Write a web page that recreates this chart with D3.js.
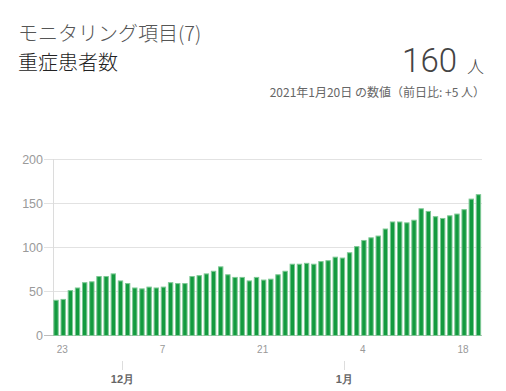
<!DOCTYPE html>
<html><head><meta charset="utf-8">
<script src="https://cdn.jsdelivr.net/npm/d3@7"></script>
<style>
html,body{margin:0;padding:0;background:#fff;}
svg{display:block;}
</style></head>
<body><svg id="c" width="506" height="391"></svg>
<script>
const titleTop = "モニタリング項目(7)";
const titleMain = "重症患者数";
const latestValue = "160";
const unit = "人";
const subText = "2021年1月20日 の数値（前日比: +5 人）";

const startDate = new Date(2020, 10, 22);
const endDate = new Date(2021, 0, 21);
const dates = d3.timeDay.range(startDate, endDate);
const values = [40,41,51,54,60,61,67,67,70,62,59,54,53,55,54,55,60,59,59,67,
  68,70,73,78,69,66,66,62,66,63,64,69,73,81,81,82,81,84,85,89,
  88,94,101,108,111,113,121,129,129,128,131,144,141,135,133,136,138,143,155,160];
const yTicks = [0,50,100,150,200];
const dayTicks = [new Date(2020,10,23), new Date(2020,11,7), new Date(2020,11,21), new Date(2021,0,4), new Date(2021,0,18)];
const monthTicks = [new Date(2020,11,1), new Date(2021,0,1)];
const monthLabels = ["12月","1月"];

const svg = d3.select("#c");
const jp = "'Noto Sans CJK JP','Noto Sans',sans-serif";
const num = "'Liberation Sans',Arial,sans-serif";

svg.append("text").attr("x",18).attr("y",41).attr("font-family",jp).attr("font-size",20)
  .attr("font-weight",300).attr("fill","#555").text(titleTop);
svg.append("text").attr("x",18).attr("y",70).attr("font-family",jp).attr("font-size",20)
  .attr("font-weight",300).attr("fill","#222").text(titleMain);
svg.append("text").attr("x",457).attr("y",72).attr("text-anchor","end").attr("font-family","Roboto,sans-serif")
  .attr("font-size",33).attr("font-weight",300).attr("fill","#444").text(latestValue);
svg.append("text").attr("x",467).attr("y",73).attr("font-family",jp).attr("font-size",17)
  .attr("font-weight",300).attr("fill","#444").text(unit);
svg.append("text").attr("x",485).attr("y",97).attr("text-anchor","end").attr("font-family",jp)
  .attr("font-size",12).attr("fill","#666").text(subText);

const x = d3.scaleBand().domain(dates.map(d=>+d)).range([52.5,482]).paddingInner(0.25).paddingOuter(0.12);
const y = d3.scaleLinear().domain([0,200]).range([335,159]);
const cx = d => x(+d) + x.bandwidth()/2;

// gridlines + y ticks
const gy = svg.append("g");
gy.selectAll("line.grid").data(yTicks.filter(t=>t>0)).join("line")
  .attr("x1",44).attr("x2",482).attr("y1",d=>Math.round(y(d))+0.5).attr("y2",d=>Math.round(y(d))+0.5)
  .attr("stroke","#e2e2e2");
gy.selectAll("text").data(yTicks).join("text")
  .attr("x",43).attr("y",d=>y(d)+4.5).attr("text-anchor","end")
  .attr("font-family",num).attr("font-size",12.5).attr("fill","#9a9a9a").text(d=>d);
svg.append("line").attr("x1",53.5).attr("x2",53.5).attr("y1",y(200)).attr("y2",y(0))
  .attr("stroke","#dcdcdc");
svg.append("line").attr("x1",44).attr("x2",482).attr("y1",y(0)+0.5).attr("y2",y(0)+0.5)
  .attr("stroke","#bdbdbd");

// bars
svg.append("g").selectAll("rect").data(dates).join("rect")
  .attr("x",d=>x(+d)+0.5).attr("width",x.bandwidth()-1)
  .attr("y",(d,i)=>y(values[i])+0.5).attr("height",(d,i)=>y(0)-y(values[i]))
  .attr("fill","#139a3f").attr("stroke","#7dc894").attr("stroke-width",1);

// day tick labels
svg.append("g").selectAll("text").data(dayTicks).join("text")
  .attr("x",d=>cx(d)-1).attr("y",353).attr("text-anchor","middle")
  .attr("font-family",num).attr("font-size",10).attr("fill","#999").text(d=>d.getDate());

// month ticks
const mg = svg.append("g");
mg.selectAll("line").data(monthTicks).join("line")
  .attr("x1",d=>Math.round(cx(d)+2)+0.5).attr("x2",d=>Math.round(cx(d)+2)+0.5)
  .attr("y1",361).attr("y2",370).attr("stroke","#ddd");
mg.selectAll("text").data(monthTicks).join("text")
  .attr("x",d=>cx(d)+2).attr("y",383).attr("text-anchor","middle")
  .attr("font-family",num).attr("font-size",11).attr("font-weight","bold").attr("fill","#666")
  .text((d,i)=>monthLabels[i]);
</script></body></html>
